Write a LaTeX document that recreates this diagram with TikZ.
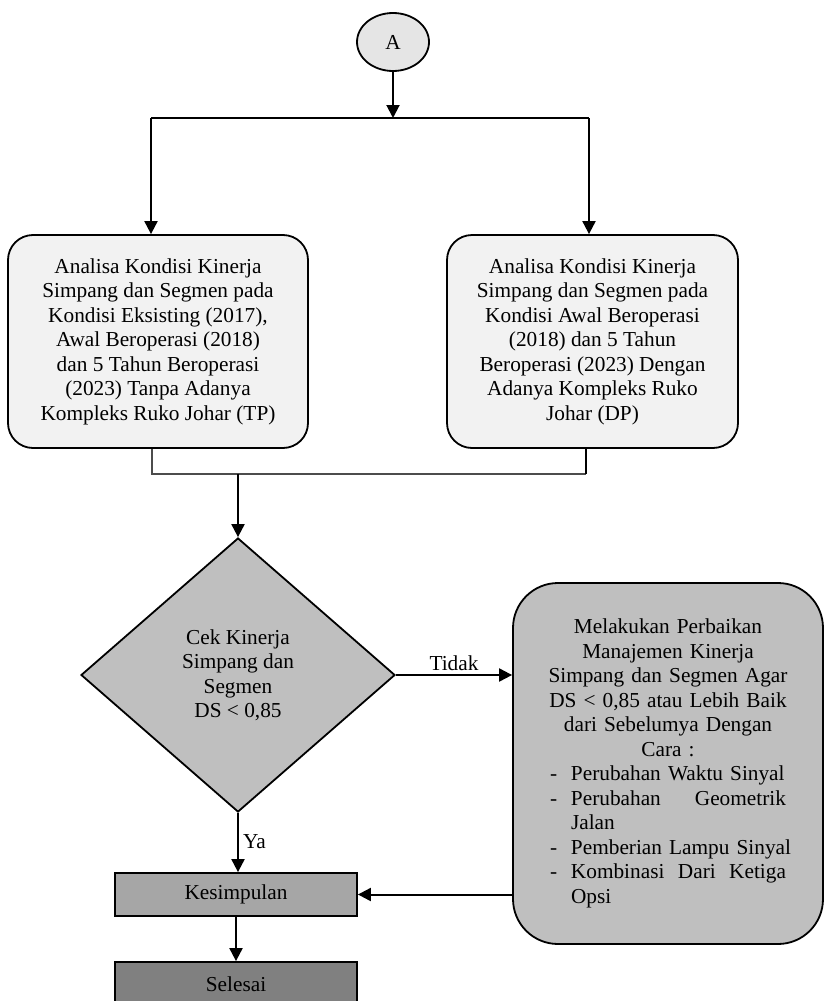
\documentclass[tikz,border=0pt]{standalone}
\usepackage{fontspec}
\setmainfont{Liberation Serif}
\usetikzlibrary{shapes.geometric,arrows.meta}
\newcommand{\itemline}[1]{\makebox[236pt][l]{#1}}
\begin{document}
\begin{tikzpicture}[x=1pt,y=-1pt,
  every node/.style={font=\fontsize{21.3}{24.5}\selectfont, inner sep=0pt},
  conn/.style={line width=2pt,-{Triangle[length=13pt,width=13pt]}},
  plainline/.style={line width=2pt},
  thinline/.style={line width=1.2pt, draw=black!70},
  startnode/.style={draw, ellipse, fill=black!10, line width=1.8pt, minimum width=72pt, minimum height=58pt},
  topbox/.style={draw, line width=1.8pt, fill=black!5, rounded corners=25pt, minimum height=213pt, align=center},
  decision/.style={draw, diamond, line width=1.8pt, fill=black!25, minimum width=314pt, minimum height=274pt, align=center},
  fixbox/.style={draw, line width=1.8pt, fill=black!25, rounded corners=45pt, minimum width=310pt, minimum height=361pt, text width=270pt, align=center},
  endbox/.style={draw, line width=1.8pt, minimum width=242pt, minimum height=43pt}
]
\useasboundingbox (0,0) rectangle (825,1001);

% start
\node[startnode] (A) at (393,42) {A};
\coordinate (split) at (393,118);
\coordinate (sl) at (151,118);
\coordinate (sr) at (589,118);

% top boxes
\node[topbox, minimum width=300pt] (tp) at (158,341.5) {Analisa Kondisi Kinerja\\Simpang dan Segmen pada\\Kondisi Eksisting (2017),\\Awal Beroperasi (2018)\\dan 5 Tahun Beroperasi\\(2023) Tanpa Adanya\\Kompleks Ruko Johar (TP)};
\node[topbox, minimum width=291pt] (dp) at (592.5,341.5) {Analisa Kondisi Kinerja\\Simpang dan Segmen pada\\Kondisi Awal Beroperasi\\(2018) dan 5 Tahun\\Beroperasi (2023) Dengan\\Adanya Kompleks Ruko\\Johar (DP)};

\draw[conn] (A.south) -- (split);
\draw[plainline] (sl) -- (sr);
\draw[conn] (sl) -- (sl |- tp.north);
\draw[conn] (sr) -- (sr |- dp.north);

% merge
\coordinate (ml) at (152,474);
\coordinate (mr) at (586,474);
\coordinate (mc) at (238,474);
\draw[thinline] (ml |- tp.south) -- (ml) -- (mr);
\draw[plainline] (mr) -- (mr |- dp.south);

% decision
\node[decision] (dec) at (238,675) {Cek Kinerja\\Simpang dan\\Segmen\\DS < 0,85};
\draw[conn] (mc) -- (dec.north);

% fix box
\node[fixbox] (fix) at (668,763.5) {Melakukan Perbaikan\\Manajemen Kinerja\\Simpang dan Segmen Agar\\DS < 0,85 atau Lebih Baik\\dari Sebelumya Dengan\\Cara :\\
\itemline{\makebox[21pt][l]{-}Perubahan Waktu Sinyal}\\
\itemline{\makebox[21pt][l]{-}Perubahan\hfill Geometrik}\\
\itemline{\hspace*{21pt}Jalan}\\
\itemline{\makebox[21pt][l]{-}Pemberian Lampu Sinyal}\\
\itemline{\makebox[21pt][l]{-}Kombinasi\hfill Dari\hfill Ketiga}\\
\itemline{\hspace*{21pt}Opsi}};

\draw[conn] (dec.east) -- node[above=3pt] {Tidak} (fix.west |- dec.east);

% end boxes
\node[endbox, fill=black!35] (kes) at (236,894.5) {Kesimpulan};
\node[endbox, fill=black!50, minimum height=44pt] (sel) at (236,984) {Selesai};

\draw[conn] (dec.south) -- node[right=4pt, pos=0.48] {Ya} (dec.south |- kes.north);
\draw[conn] (fix.west |- kes.east) -- (kes.east);
\draw[conn] (kes.south) -- (sel.north);
\end{tikzpicture}
\end{document}
